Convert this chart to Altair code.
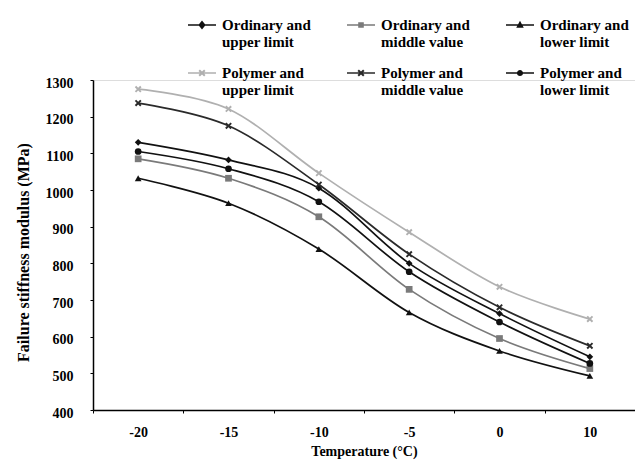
import altair as alt
import pandas as pd

temps = ["-20", "-15", "-10", "-5", "0", "10"]
series = [
    "Ordinary and upper limit",
    "Ordinary and middle value",
    "Ordinary and lower limit",
    "Polymer and upper limit",
    "Polymer and middle value",
    "Polymer and lower limit",
]
ordinary_upper = [1130, 1082, 1005, 800, 663, 545]
ordinary_middle = [1085, 1032, 927, 729, 595, 513]
ordinary_lower = [1032, 964, 839, 666, 561, 493]
polymer_upper = [1275, 1221, 1046, 885, 736, 648]
polymer_middle = [1237, 1175, 1015, 825, 680, 575]
polymer_lower = [1105, 1058, 968, 777, 640, 527]

colors = ["#111111", "#7a7a7a", "#111111", "#b0b0b0", "#2a2a2a", "#111111"]

X_PATH = ("M-1,-0.6L-0.6,-1L0,-0.4L0.6,-1L1,-0.6L0.4,0L1,0.6L0.6,1L0,0.4"
          "L-0.6,1L-1,0.6L-0.4,0Z")
point_shapes = ["diamond", "square", "triangle-up", X_PATH, X_PATH, "circle"]

BAR = "M-1,-0.055H1V0.055H-1Z"
SMALL_X = ("M-0.25,-0.15L-0.15,-0.25L0,-0.1L0.15,-0.25L0.25,-0.15L0.1,0L0.25,0.15"
           "L0.15,0.25L0,0.1L-0.15,0.25L-0.25,0.15L-0.1,0Z")
legend_shapes = [
    BAR + "M0,-0.32L0.26,0L0,0.32L-0.26,0Z",
    BAR + "M-0.2,-0.2H0.2V0.2H-0.2Z",
    BAR + "M0,-0.3L0.27,0.2H-0.27Z",
    BAR + SMALL_X,
    BAR + SMALL_X,
    BAR + "M-0.22,0a0.22,0.22 0 1,1 0.44,0a0.22,0.22 0 1,1 -0.44,0Z",
]

values = [ordinary_upper, ordinary_middle, ordinary_lower,
          polymer_upper, polymer_middle, polymer_lower]
rows = []
for s, vals in zip(series, values):
    for t, v in zip(temps, vals):
        rows.append({"series": s, "temp": t, "value": v})
df = pd.DataFrame(rows)

FONT = "Liberation Serif"

x_enc = alt.X(
    "temp:O",
    sort=temps,
    bandPosition=0.5,
    scale=alt.Scale(type="band", paddingInner=0, paddingOuter=0),
    axis=alt.Axis(
        title="Temperature (°C)",
        labelAngle=0,
        tickBand="extent",
        tickSize=3,
        labelPadding=12,
        titlePadding=5,
        labelFont=FONT, labelFontSize=14, labelFontWeight="bold",
        titleFont=FONT, titleFontSize=14, titleFontWeight="bold",
        labelColor="black", titleColor="black",
        domainColor="black", tickColor="black", domainWidth=1.5,
    ),
)
y_enc = alt.Y(
    "value:Q",
    scale=alt.Scale(domain=[400, 1300], nice=False, zero=False),
    axis=alt.Axis(
        values=list(range(400, 1301, 100)),
        format="d",
        title="Failure stiffness modulus (MPa)",
        tickSize=3,
        labelPadding=17,
        labelOffset=3,
        titlePadding=14,
        titleY=172,
        grid=False,
        labelFont=FONT, labelFontSize=14, labelFontWeight="bold",
        titleFont=FONT, titleFontSize=16, titleFontWeight="bold",
        labelColor="black", titleColor="black",
        domainColor="black", tickColor="black", domainWidth=1.5,
    ),
)

color_scale = alt.Scale(domain=series, range=colors)

lines = alt.Chart(df).mark_line(interpolate="cardinal", strokeWidth=1.7).encode(
    x=x_enc,
    y=y_enc,
    color=alt.Color("series:N", scale=color_scale, legend=None),
    detail="series:N",
)

points = alt.Chart(df).mark_point(filled=True, size=45, opacity=1).encode(
    x=x_enc,
    y=y_enc,
    color=alt.Color("series:N", scale=color_scale, legend=None),
    shape=alt.Shape("series:N", scale=alt.Scale(domain=series, range=point_shapes), legend=None),
)

legend_layer = alt.Chart(df).mark_point(filled=True, opacity=1).encode(
    x=x_enc,
    y=y_enc,
    color=alt.Color(
        "series:N",
        scale=color_scale,
        legend=alt.Legend(
            title=None,
            orient="none",
            direction="horizontal",
            legendX=95,
            legendY=-69,
            columns=3,
            columnPadding=36,
            rowPadding=9,
            symbolSize=784,
            symbolStrokeWidth=0,
            labelOffset=6,
            labelLimit=0,
            labelFont=FONT,
            labelFontSize=15,
            labelFontWeight="bold",
            labelColor="black",
            labelExpr="[slice(datum.label, 0, indexof(datum.label, ' and') + 4), "
                      "slice(datum.label, indexof(datum.label, ' and') + 5)]",
        ),
    ),
    shape=alt.Shape("series:N", scale=alt.Scale(domain=series, range=legend_shapes)),
).transform_filter(alt.datum.value < 0)

chart = alt.layer(lines, points, legend_layer).resolve_scale(
    color="independent", shape="independent"
).properties(
    width=542,
    height=330,
    autosize=alt.AutoSizeParams(type="none"),
    padding={"left": 93, "top": 80, "right": 0, "bottom": 61},
).configure_view(stroke=None).configure(background="white", font=FONT)

chart.save("out.html", embed_options={"renderer": "svg", "actions": False})
